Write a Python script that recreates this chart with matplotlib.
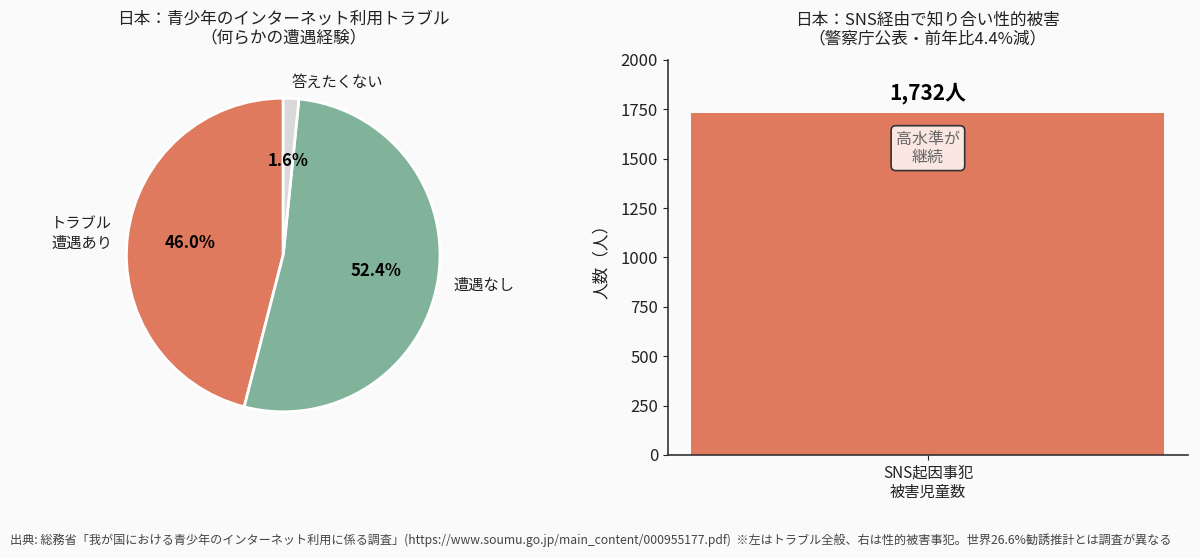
import matplotlib
matplotlib.use("Agg")
import matplotlib.pyplot as plt

plt.rcParams["font.family"] = ["Noto Sans CJK JP", "DejaVu Sans"]

# left: internet trouble experience (%)
pie_labels = ["トラブル\n遭遇あり", "遭遇なし", "答えたくない"]
pie_values = [46.0, 52.4, 1.6]
pie_colors = ["#E07A5F", "#81B29A", "#D9D9D9"]

# right: SNS-related victims
bar_labels = ["SNS起因事犯\n被害児童数"]
bar_values = [1732]

BG = "#FAFAFA"
TEXT = "#222222"

fig = plt.figure(figsize=(12, 5.58), dpi=100, facecolor=BG)

# --- pie ---
ax1 = fig.add_axes([0.0725, 0.1918, 0.327, 0.7025])
ax1.set_facecolor(BG)
wedges, texts, autotexts = ax1.pie(
    pie_values,
    labels=pie_labels,
    colors=pie_colors,
    startangle=90,
    autopct="%1.1f%%",
    pctdistance=0.6,
    labeldistance=1.1,
    wedgeprops={"edgecolor": "white", "linewidth": 2},
    textprops={"fontsize": 11, "color": TEXT},
)
for t in autotexts:
    t.set_fontsize(12)
    t.set_fontweight("bold")
    t.set_color("black")
ax1.set_title("日本：青少年のインターネット利用トラブル\n（何らかの遭遇経験）",
              fontsize=12, color=TEXT, pad=12, linespacing=1.15)

# --- bar ---
ax2 = fig.add_axes([0.5565, 0.1846, 0.4335, 0.7079])
ax2.set_facecolor(BG)
bars = ax2.bar(bar_labels, bar_values, color=pie_colors[0], width=0.8)
ax2.set_ylim(0, 2000)
ax2.set_ylabel("人数（人）", fontsize=12, color=TEXT, labelpad=8)
ax2.set_title("日本：SNS経由で知り合い性的被害\n（警察庁公表・前年比4.4%減）",
              fontsize=12, color=TEXT, pad=12, linespacing=1.15)
ax2.spines["top"].set_visible(False)
ax2.spines["right"].set_visible(False)
for s in ("left", "bottom"):
    ax2.spines[s].set_color("#333333")
    ax2.spines[s].set_linewidth(1.2)
ax2.tick_params(axis="both", labelsize=12, colors=TEXT)
ax2.tick_params(axis="x", labelsize=11)

for b, v in zip(bars, bar_values):
    ax2.text(b.get_x() + b.get_width() / 2, v + 45, f"{v:,}人",
             ha="center", va="bottom", fontsize=15, fontweight="bold", color="black")

ax2.text(0, bar_values[0] * 0.897, "高水準が\n継続", ha="center", va="center",
         fontsize=11.5, color="#666666", linespacing=1.1,
         bbox=dict(boxstyle="round,pad=0.3", facecolor="#FBE7E1",
                   edgecolor="#333333", linewidth=1.2))

fig.text(0.008, 0.032,
         "出典: 総務省「我が国における青少年のインターネット利用に係る調査」"
         "(https://www.soumu.go.jp/main_content/000955177.pdf)  "
         "※左はトラブル全般、右は性的被害事犯。世界26.6%勧誘推計とは調査が異なる",
         fontsize=8.75, color="#444444", ha="left", va="center")

fig.savefig("out.png", dpi=100, facecolor=BG)
